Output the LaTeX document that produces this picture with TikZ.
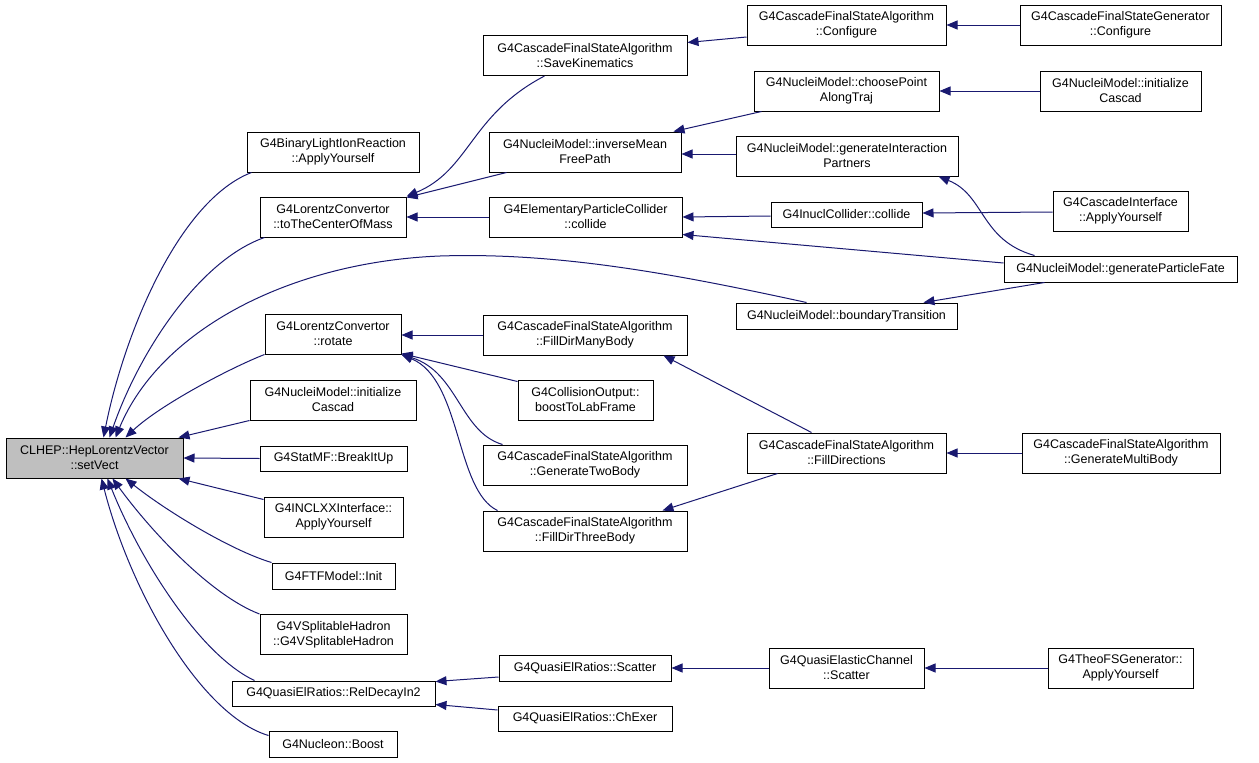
\documentclass[tikz,border=0pt]{standalone}
\usepackage{fontspec}
\setmainfont{Liberation Sans}
\usetikzlibrary{arrows.meta,calc}
\definecolor{edgecol}{HTML}{191970}
\definecolor{rootfill}{HTML}{BFBFBF}
\tikzset{
  box/.style={draw=black, line width=1pt, fill=white, inner sep=0pt, align=center,
    font=\fontsize{12.5}{15}\selectfont, text=black},
  rootbox/.style={box, fill=rootfill},
  edge/.style={draw=edgecol, line width=1pt, -{Triangle[length=11pt,width=9pt]}}
}
\begin{document}
\begin{tikzpicture}[x=1pt,y=-1pt]
\useasboundingbox (0,0) rectangle (1259,763);
% root
\node[rootbox, minimum width=177, minimum height=40] (root) at (94.5,458) {CLHEP::HepLorentzVector\\::setVect};
% column 1
\node[box, minimum width=172, minimum height=40] (blir) at (333,152) {G4BinaryLightIonReaction\\::ApplyYourself};
\node[box, minimum width=146, minimum height=40] (tcm) at (333,217) {G4LorentzConvertor\\::toTheCenterOfMass};
\node[box, minimum width=136, minimum height=40] (rot) at (333,334) {G4LorentzConvertor\\::rotate};
\node[box, minimum width=166, minimum height=40] (nic) at (333,400) {G4NucleiModel::initialize\\Cascad};
\node[box, minimum width=147, minimum height=25] (bku) at (333.5,458.5) {G4StatMF::BreakItUp};
\node[box, minimum width=139, minimum height=40] (incl) at (333.5,517) {G4INCLXXInterface::\\ApplyYourself};
\node[box, minimum width=123, minimum height=26] (ftf) at (333.5,576) {G4FTFModel::Init};
\node[box, minimum width=147, minimum height=40] (vsh) at (333.5,634.5) {G4VSplitableHadron\\::G4VSplitableHadron};
\node[box, minimum width=203, minimum height=25] (rdi) at (333.5,693.5) {G4QuasiElRatios::RelDecayIn2};
\node[box, minimum width=128, minimum height=26] (nbo) at (333,744) {G4Nucleon::Boost};
% column 2
\node[box, minimum width=204, minimum height=40] (savk) at (585,55.5) {G4CascadeFinalStateAlgorithm\\::SaveKinematics};
\node[box, minimum width=192, minimum height=40] (imfp) at (585,152) {G4NucleiModel::inverseMean\\FreePath};
\node[box, minimum width=193, minimum height=40] (epc) at (585.5,217) {G4ElementaryParticleCollider\\::collide};
\node[box, minimum width=204, minimum height=40] (fdmb) at (585,335) {G4CascadeFinalStateAlgorithm\\::FillDirManyBody};
\node[box, minimum width=135, minimum height=40] (btlf) at (585.5,400) {G4CollisionOutput::\\boostToLabFrame};
\node[box, minimum width=204, minimum height=40] (gtb) at (585,465) {G4CascadeFinalStateAlgorithm\\::GenerateTwoBody};
\node[box, minimum width=204, minimum height=40] (fdtb) at (585,531) {G4CascadeFinalStateAlgorithm\\::FillDirThreeBody};
\node[box, minimum width=172, minimum height=26] (qes) at (585,668) {G4QuasiElRatios::Scatter};
\node[box, minimum width=174, minimum height=25] (qec) at (585,718.5) {G4QuasiElRatios::ChExer};
% column 3
\node[box, minimum width=199, minimum height=40] (conf) at (846.5,25) {G4CascadeFinalStateAlgorithm\\::Configure};
\node[box, minimum width=185, minimum height=40] (cpat) at (846.5,91) {G4NucleiModel::choosePoint\\AlongTraj};
\node[box, minimum width=222, minimum height=40] (gip) at (847,156) {G4NucleiModel::generateInteraction\\Partners};
\node[box, minimum width=151, minimum height=25] (inc) at (846.5,214.5) {G4InuclCollider::collide};
\node[box, minimum width=221, minimum height=26] (bt) at (846.5,316) {G4NucleiModel::boundaryTransition};
\node[box, minimum width=199, minimum height=40] (fdir) at (846.5,453) {G4CascadeFinalStateAlgorithm\\::FillDirections};
\node[box, minimum width=155, minimum height=40] (qech) at (846.5,668) {G4QuasiElasticChannel\\::Scatter};
% column 4
\node[box, minimum width=201, minimum height=40] (gconf) at (1120.5,25) {G4CascadeFinalStateGenerator\\::Configure};
\node[box, minimum width=161, minimum height=40] (nic2) at (1120.5,91) {G4NucleiModel::initialize\\Cascad};
\node[box, minimum width=135, minimum height=40] (ci) at (1120.5,211) {G4CascadeInterface\\::ApplyYourself};
\node[box, minimum width=233, minimum height=26] (gpf) at (1120.5,269) {G4NucleiModel::generateParticleFate};
\node[box, minimum width=198, minimum height=40] (gmb) at (1121,453) {G4CascadeFinalStateAlgorithm\\::GenerateMultiBody};
\node[box, minimum width=145, minimum height=40] (theo) at (1120.5,668) {G4TheoFSGenerator::\\ApplyYourself};
% edges into root
\draw[edge] ($(blir.south west)+(5,0)$) .. controls (180,200) and (125,330) .. ($(root.north west)+(98,0)$);
\draw[edge] ($(tcm.south west)+(5,0)$) .. controls (200,260) and (140,350) .. ($(root.north west)+(104,0)$);
\draw[edge] ($(bt.north west)+(71,0)$) .. controls (680,275) and (560,252) .. (440,256)
   .. controls (290,262) and (160,330) .. ($(root.north west)+(110,0)$);
\draw[edge] (rot.south west) .. controls (230,368) and (160,405) .. ($(root.north west)+(120,0)$);
\draw[edge] (nic.south west) -- ($(root.north east)+(-5,0)$);
\draw[edge] (bku.west) -- (root.east);
\draw[edge] ($(incl.north west)+(0,3)$) -- ($(root.south east)+(-5,0)$);
\draw[edge] (ftf.north west) .. controls (230,550) and (165,510) .. ($(root.south west)+(120,0)$);
\draw[edge] (vsh.north west) .. controls (210,595) and (150,530) .. ($(root.south west)+(107,0)$);
\draw[edge] ($(rdi.north west)+(23,0)$) .. controls (200,655) and (140,560) .. ($(root.south west)+(102,0)$);
\draw[edge] ($(nbo.north west)+(0,5)$) .. controls (200,715) and (130,590) .. ($(root.south west)+(96,0)$);
% into toTheCenterOfMass
\draw[edge] ($(savk.south west)+(62,0)$) .. controls (470,115) and (470,170) .. (tcm.north east);
\draw[edge] ($(imfp.south west)+(18,0)$) -- ($(tcm.north east)+(0,1)$);
\draw[edge] (epc.west) -- (tcm.east);
% upper right
\draw[edge] ($(conf.west)+(0,12)$) -- ($(savk.north east)+(0,7.5)$);
\draw[edge] (gconf.west) -- (conf.east);
\draw[edge] ($(cpat.south west)+(8,0)$) -- ($(imfp.north east)+(-8,0)$);
\draw[edge] ($(gip.west)+(0,-2)$) -- ($(imfp.east)+(0,2)$);
\draw[edge] (nic2.west) -- (cpat.east);
\draw[edge] ($(gpf.north west)+(31,0)$) .. controls (980,240) and (985,195) .. ($(gip.south east)+(-20,0)$);
\draw[edge] ($(inc.west)+(0,1.5)$) -- (epc.east);
\draw[edge] ($(gpf.west)+(0,-6)$) -- ($(epc.south east)+(0,-3)$);
\draw[edge] ($(ci.west)+(0,1)$) -- ($(inc.east)+(0,-1.5)$);
\draw[edge] ($(gpf.south west)+(41,0)$) -- ($(bt.north east)+(-34,0)$);
% into rotate
\draw[edge] (fdmb.west) -- ($(rot.east)+(0,1)$);
\draw[edge] ($(btlf.north west)+(0,2)$) -- ($(rot.south east)+(0,-1)$);
\draw[edge] ($(gtb.north west)+(20,0)$) .. controls (460,432) and (458,372) .. (rot.south east);
\draw[edge] ($(fdtb.north west)+(15,0)$) .. controls (455,490) and (462,380) .. (rot.south east);
% fill directions
\draw[edge] ($(fdir.north west)+(65,0)$) -- ($(fdmb.south east)+(-24,0)$);
\draw[edge] ($(fdir.south west)+(31,0)$) -- ($(fdtb.north east)+(-25,0)$);
\draw[edge] (gmb.west) -- (fdir.east);
% quasi elastic
\draw[edge] ($(qes.west)+(0,9)$) -- ($(rdi.north east)+(0,1)$);
\draw[edge] ($(qec.west)+(0,-8.5)$) -- ($(rdi.south east)+(0,-2)$);
\draw[edge] (qech.west) -- (qes.east);
\draw[edge] (theo.west) -- (qech.east);
\end{tikzpicture}
\end{document}
